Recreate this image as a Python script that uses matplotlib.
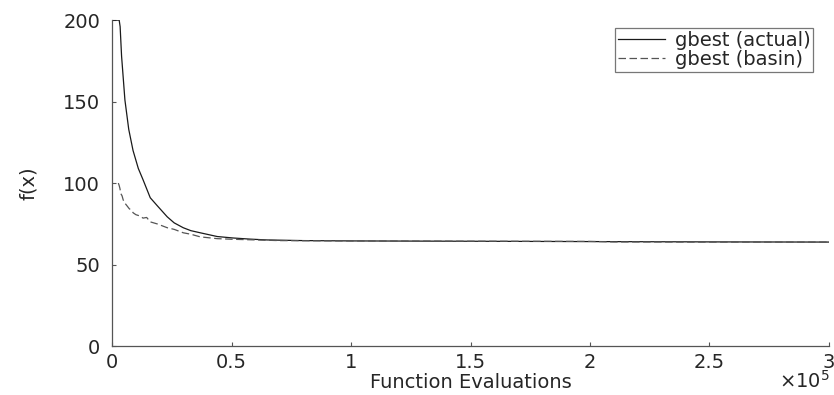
import matplotlib
matplotlib.use("Agg")
import matplotlib.pyplot as plt
from matplotlib.ticker import FuncFormatter

# gbest (actual)
actual_evals = [0, 3000, 3400, 4000, 5400, 7000, 8800, 11000, 13000, 16000,
                19000, 23100, 26000, 29800, 33000, 36900, 44000, 50700, 57900,
                64900, 80000, 100000, 150000, 200000, 250000, 300000]
actual_fx = [200, 200, 196, 178, 151, 133, 120, 109, 102, 91,
             86.0, 79.3, 75.6, 72.6, 70.8, 69.5, 67.2, 66.3, 65.6,
             65.1, 64.7, 64.5, 64.3, 64.1, 63.9, 63.8]

# gbest (basin)
basin_evals = [2640, 3000, 3300, 3700, 4200, 4700, 5500, 6300, 7200, 8000,
               8900, 10000, 11500, 13000, 14500, 16000, 19000, 23100, 26000,
               29800, 33000, 36900, 44000, 50700, 57900, 70000, 100000,
               150000, 200000, 210000, 250000, 300000]
basin_fx = [100, 98.5, 96.8, 93.5, 92.2, 89.6, 87.5, 86.0, 84.3, 83.4,
            81.7, 80.6, 79.9, 78.5, 78.9, 76.2, 74.9, 72.6, 71.6,
            69.5, 68.6, 67.0, 65.9, 65.5, 65.2, 64.7, 64.5,
            64.3, 64.2, 63.9, 63.8, 63.8]

x_ticks = [0, 50000, 100000, 150000, 200000, 250000, 300000]
y_ticks = [0, 50, 100, 150, 200]

plt.rcParams.update({
    "font.family": "DejaVu Sans",
    "font.size": 14,
    "text.color": "#262626",
    "axes.labelcolor": "#262626",
    "xtick.color": "#555555",
    "ytick.color": "#555555",
    "xtick.labelcolor": "#262626",
    "ytick.labelcolor": "#262626",
})

fig = plt.figure(figsize=(8.34, 3.95), dpi=100)
ax = fig.add_axes([0.1343, 0.124, 0.8597, 0.825])

ax.plot(actual_evals, actual_fx, color="#1a1a1a", linewidth=0.9,
        label="gbest (actual)")
ax.plot(basin_evals, basin_fx, color="#555555", linewidth=0.9,
        dashes=(6, 2.8), label="gbest (basin)")

ax.set_xlim(0, 300000)
ax.set_ylim(0, 200)
ax.set_xticks(x_ticks)
ax.set_yticks(y_ticks)
ax.xaxis.set_major_formatter(FuncFormatter(lambda v, p: f"{v / 1e5:g}"))
ax.tick_params(direction="in", length=3, width=0.8, labelsize=14)
ax.tick_params(axis="x", pad=5)
ax.tick_params(axis="y", pad=8.5)

for side in ["top", "right"]:
    ax.spines[side].set_visible(False)
for side in ["left", "bottom"]:
    ax.spines[side].set_color("#555555")
    ax.spines[side].set_linewidth(0.9)

ax.set_xlabel("Function Evaluations", fontsize=14)
ax.xaxis.set_label_coords(0.5, -0.083)
ax.set_ylabel("f(x)", fontsize=14)
ax.yaxis.set_label_coords(-0.103, 0.5)
fig.text(0.995, 0.008, r"$\times10^{5}$", ha="right", va="bottom",
         fontsize=14, color="#262626")

leg = ax.legend(loc="upper right", bbox_to_anchor=(0.978, 0.975),
                fontsize=14, frameon=True, fancybox=False,
                handlelength=2.4, handletextpad=0.5, borderpad=0.15,
                labelspacing=0.0, borderaxespad=0)
leg.get_frame().set_edgecolor("#555555")
leg.get_frame().set_linewidth(0.9)

fig.savefig("out.png", dpi=100)
